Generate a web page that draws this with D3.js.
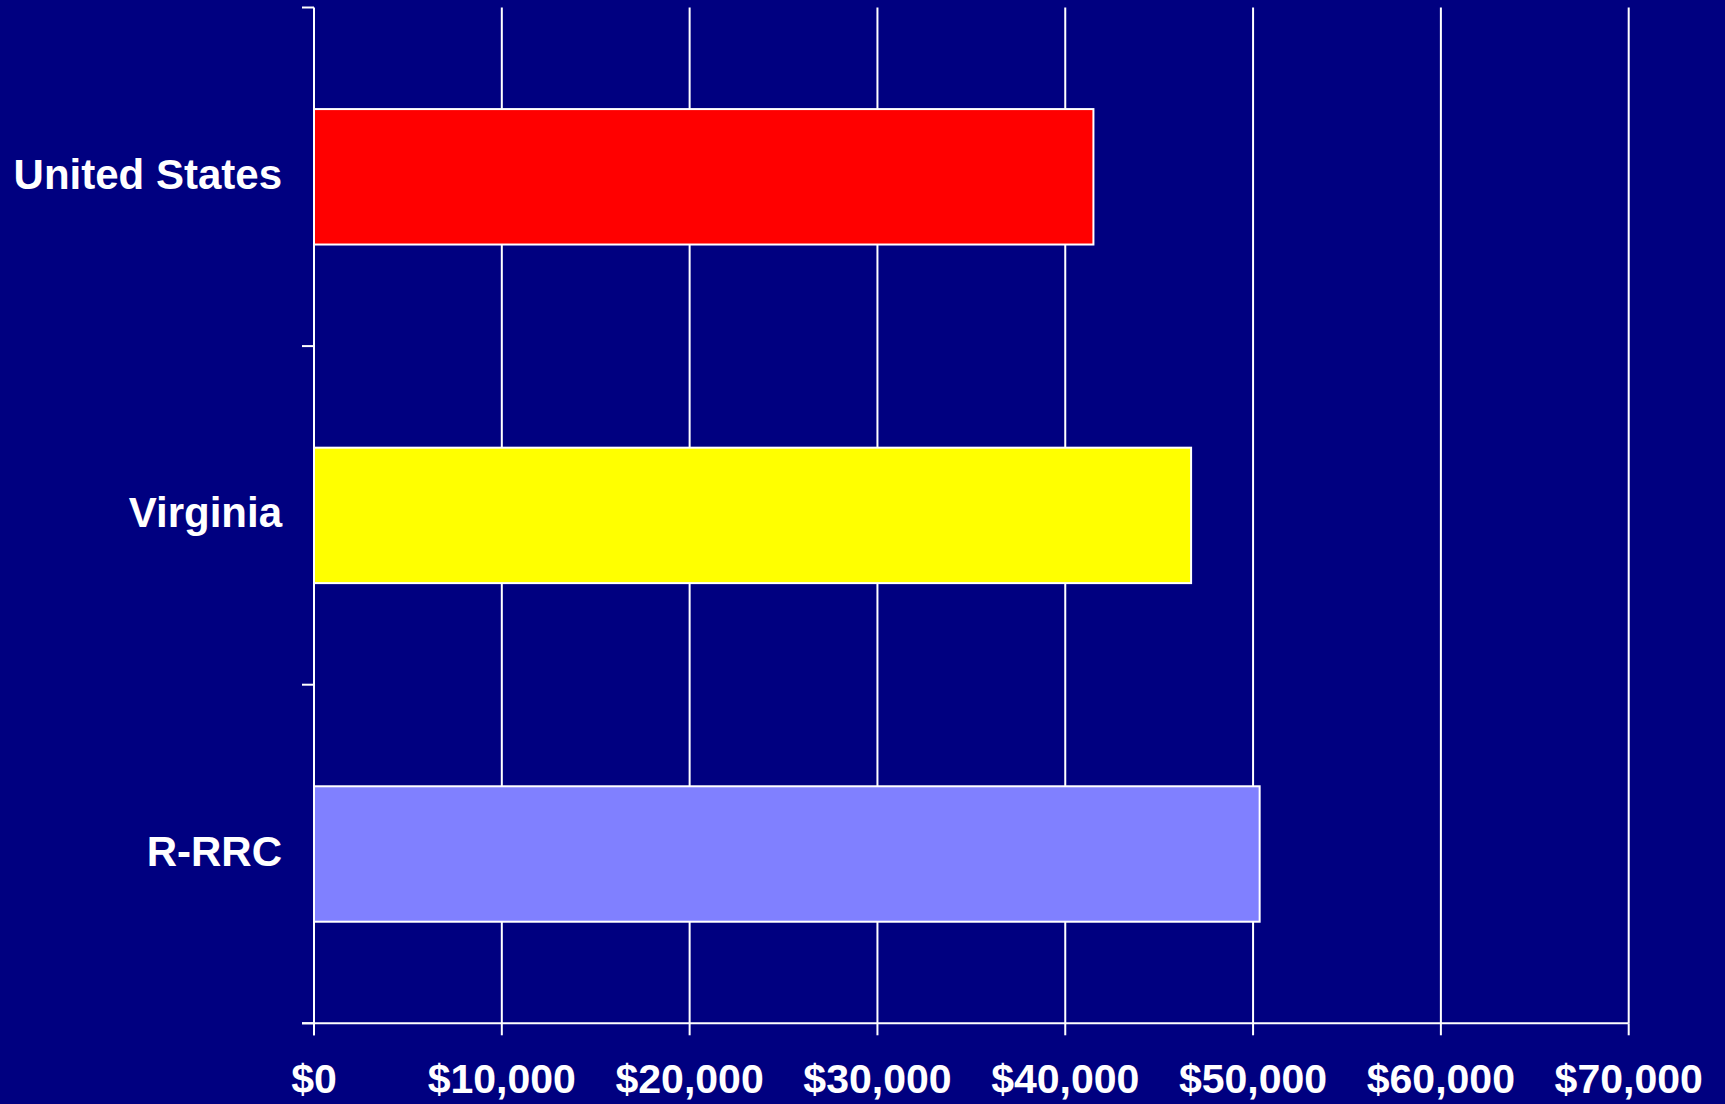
<!DOCTYPE html>
<html>
<head>
<meta charset="utf-8">
<script src="https://cdn.jsdelivr.net/npm/d3@7"></script>
<style>
  html, body { margin: 0; padding: 0; background: #000080; }
  svg { display: block; }
  text { font-family: "Liberation Sans", Arial, sans-serif; font-weight: bold; fill: #ffffff; }
</style>
</head>
<body>
<svg id="chart" width="1725" height="1104"></svg>
<script>
const categories = ["United States", "Virginia", "R-RRC"];
const values = [41500, 46700, 50350];
const barColors = ["#FF0000", "#FFFF00", "#8080FF"];
const tickValues = [0, 10000, 20000, 30000, 40000, 50000, 60000, 70000];
const tickLabels = ["$0", "$10,000", "$20,000", "$30,000", "$40,000", "$50,000", "$60,000", "$70,000"];

(function () {
const svg = d3.select("#chart");
const pLeft = 314, pRight = 1628.7, pTop = 7.5, pBottom = 1023.3;

svg.append("rect").attr("width", 1725).attr("height", 1104).attr("fill", "#000080");

const x = d3.scaleLinear().domain([0, 70000]).range([pLeft, pRight]);
const y = d3.scaleBand().domain(categories).range([pTop, pBottom])
  .paddingInner(0.6).paddingOuter(0.3);
const step = y.step();

// vertical gridlines
svg.append("g").selectAll("line").data(tickValues.slice(1)).join("line")
  .attr("x1", d => x(d)).attr("x2", d => x(d))
  .attr("y1", pTop).attr("y2", pBottom)
  .attr("stroke", "#ffffff").attr("stroke-width", 2);

// bars
svg.append("g").selectAll("rect").data(categories).join("rect")
  .attr("x", x(0))
  .attr("y", d => y(d))
  .attr("width", (d, i) => x(values[i]) - x(0))
  .attr("height", y.bandwidth())
  .attr("fill", (d, i) => barColors[i])
  .attr("stroke", "#ffffff").attr("stroke-width", 2);

// y axis line and ticks at band boundaries
svg.append("line").attr("x1", pLeft).attr("x2", pLeft).attr("y1", pTop).attr("y2", pBottom + 12)
  .attr("stroke", "#ffffff").attr("stroke-width", 2);
const boundaries = d3.range(categories.length + 1).map(i => pTop + i * step);
svg.append("g").selectAll("line").data(boundaries).join("line")
  .attr("x1", pLeft - 12).attr("x2", pLeft)
  .attr("y1", d => d).attr("y2", d => d)
  .attr("stroke", "#ffffff").attr("stroke-width", 2);

// x axis line and ticks
svg.append("line").attr("x1", pLeft - 12).attr("x2", pRight).attr("y1", pBottom).attr("y2", pBottom)
  .attr("stroke", "#ffffff").attr("stroke-width", 2);
svg.append("g").selectAll("line").data(tickValues).join("line")
  .attr("x1", d => x(d)).attr("x2", d => x(d))
  .attr("y1", pBottom).attr("y2", pBottom + 12)
  .attr("stroke", "#ffffff").attr("stroke-width", 2);

// x tick labels
svg.append("g").selectAll("text").data(tickValues).join("text")
  .attr("x", d => x(d)).attr("y", 1093)
  .attr("text-anchor", "middle")
  .attr("font-size", 41)
  .text((d, i) => tickLabels[i]);

// category labels
svg.append("g").selectAll("text").data(categories).join("text")
  .attr("x", 282)
  .attr("y", d => y(d) + y.bandwidth() / 2 + 12)
  .attr("text-anchor", "end")
  .attr("font-size", 42)
  .text(d => d);
})();
</script>
</body>
</html>
